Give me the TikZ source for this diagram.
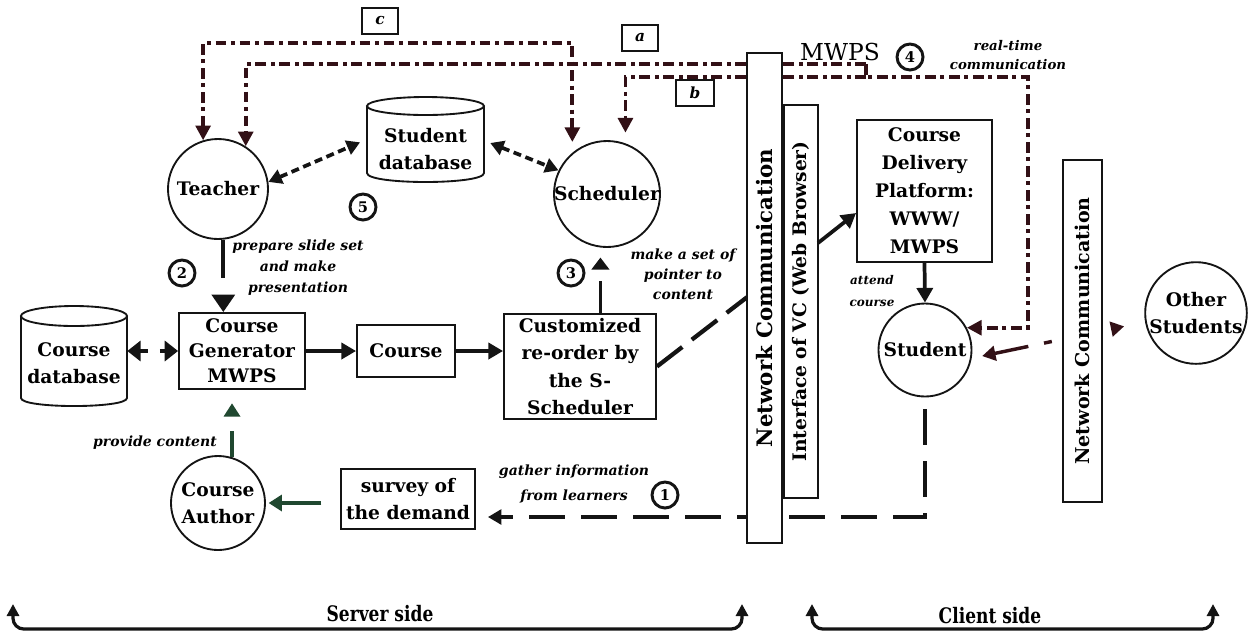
\documentclass[tikz,border=0pt]{standalone}
\usepackage{fontspec}
\setmainfont{DejaVu Serif}
\newfontfamily\condserif{DejaVu Serif}[FakeStretch=0.8]
\usetikzlibrary{arrows.meta}

\definecolor{ink}{RGB}{20,20,20}
\definecolor{redink}{RGB}{50,16,22}
\definecolor{greenink}{RGB}{32,72,48}

\newcommand\mainsz{\bfseries\fontsize{14}{20}\selectfont}
\newcommand\notesz{\bfseries\itshape\fontsize{10.5}{15}\selectfont}

\begin{document}
\begin{tikzpicture}[x=0.75pt, y=-0.75pt,
  txt/.style={font=\mainsz, align=center},
  boxnode/.style={txt, draw=ink, line width=1.4pt, inner sep=0pt, fill=white},
  circnode/.style={txt, circle, draw=ink, line width=1.4pt, inner sep=0pt},
  barnode/.style={txt, draw=ink, line width=1.4pt, fill=white, inner sep=0pt, rotate=90},
  dbline/.style={draw=ink, line width=1.4pt},
  lbl/.style={font=\notesz, align=center, inner sep=0pt},
  numnode/.style={circle, draw=ink, line width=2.2pt, inner sep=0pt, minimum size=19.5pt, font=\bfseries\fontsize{11}{11}\selectfont},
  tagnode/.style={draw=ink, line width=1.7pt, minimum width=27pt, minimum height=20pt, inner sep=0pt, font=\bfseries\itshape\fontsize{11.5}{11.5}\selectfont},
  solidarrow/.style={draw=ink, line width=2.8pt, -{Triangle[length=11pt,width=12pt]}},
  gapped/.style={draw=ink, line width=2.8pt, -{Triangle[length=13pt,width=17pt]}},
  greenarrow/.style={draw=greenink, line width=2.8pt, -{Triangle[length=10pt,width=12pt]}},
  dbdash/.style={draw=ink, line width=2.8pt, dash pattern=on 6pt off 3.5pt, {Triangle[length=10pt,width=11pt]}-{Triangle[length=10pt,width=11pt]}},
  topdash/.style={draw=redink, line width=2.8pt, dash pattern=on 8pt off 3.5pt on 3pt off 3.5pt},
  toptip/.style={-{Triangle[length=11pt,width=11pt]}},
  bracket/.style={draw=ink, line width=2.4pt, rounded corners=8pt, {Triangle[length=9pt,width=9pt]}-{Triangle[length=9pt,width=9pt]}},
  sidetext/.style={font=\condserif\bfseries\fontsize{16}{16}\selectfont, inner sep=0pt}
]
\useasboundingbox (0,0) rectangle (1250,637);

% ---- databases ----
\draw[dbline, fill=white] (367,106) -- (367,173) .. controls (367,185) and (484,185) .. (484,173) -- (484,106);
\draw[dbline] (425.5,106) ellipse [x radius=43.875pt, y radius=6.75pt];
\node[txt, minimum width=87.75pt, inner sep=0pt] (sdb) at (425.5,149) {Student\\database};

\draw[dbline, fill=white] (21,316) -- (21,398) .. controls (21,408.7) and (127,408.7) .. (127,398) -- (127,316);
\draw[dbline] (74,316) ellipse [x radius=39.75pt, y radius=7.5pt];
\node[txt, minimum width=79.5pt, inner sep=0pt] (cdb) at (74,363) {Course\\database};

% ---- actors and processing steps ----
\node[circnode, minimum size=75pt] (teacher) at (218,189) {Teacher};
\node[circnode, minimum size=79.5pt, inner sep=-1.5pt] (sched) at (607,194) {Scheduler};
\node[boxnode, minimum width=94.5pt, minimum height=57pt, font=\bfseries\fontsize{14}{18.75}\selectfont] (cgen) at (242,351) {Course\\Generator\\MWPS};
\node[boxnode, minimum width=73.5pt, minimum height=39pt] (course) at (406,351) {Course};
\node[boxnode, minimum width=114pt, minimum height=78.75pt, font=\bfseries\fontsize{14}{20.6}\selectfont] (custom) at (580,366.5) {Customized\\re-order by\\the S-\\Scheduler};
\node[circnode, minimum size=70.5pt] (author) at (218,503) {Course\\Author};
\node[boxnode, minimum width=100.5pt, minimum height=45pt] (survey) at (408,499) {survey of\\the demand};
\node[boxnode, minimum width=101.25pt, minimum height=106.5pt, font=\bfseries\fontsize{14}{21}\selectfont] (cdp) at (924.5,191) {Course\\Delivery\\Platform:\\WWW/\\MWPS};
\node[circnode, minimum size=69.75pt] (student) at (925,350) {Student};
\node[circnode, minimum size=75pt] (other) at (1196,313) {Other\\Students};

% ---- tags, step numbers and notes ----
\node[tagnode] (tagc) at (380,21) {c};
\node[tagnode] (taga) at (640,38) {a};
\node[tagnode, minimum width=28.5pt] (tagb) at (695,93) {b};

\node[numnode] (n1) at (665,495) {1};
\node[numnode] (n2) at (182,273) {2};
\node[numnode] (n3) at (571,273) {3};
\node[numnode] (n4) at (910,57) {4};
\node[numnode] (n5) at (363,207) {5};

\node[lbl, font=\bfseries\itshape\fontsize{10.5}{15.75}\selectfont] (lprep) at (298,268) {prepare slide set\\and make\\presentation};
\node[lbl] (lmake) at (683,274) {make a set of\\pointer to\\content};
\node[lbl, font=\bfseries\itshape\fontsize{9}{16}\selectfont] (lattend) at (872,291) {attend\\course};
\node[lbl] (lprov) at (155,443) {provide content};
\node[lbl, font=\bfseries\itshape\fontsize{10.5}{18.75}\selectfont] (lgather) at (574,484) {gather information\\from learners};
\node[lbl, font=\bfseries\itshape\fontsize{10}{14}\selectfont] (lreal) at (1008,55) {real-time\\communication};
\node[font=\fontsize{17.5}{17.5}\selectfont, inner sep=0pt] (lmwps) at (840,52) {MWPS};

% ---- connectors ----
\draw[dbdash] (teacher.8) -- ([xshift=-5pt,yshift=5pt]sdb.west);
\draw[dbdash] ([xshift=4.5pt,yshift=4.5pt]sdb.east) -- (sched.154);

\draw[gapped, dash pattern=on 28.5pt off 40pt] (teacher.-84) -- (teacher.-84 |- cgen.north);
\draw[draw=ink, line width=2.8pt, dash pattern=on 24pt off 40pt, shorten >=7.5pt, -{Triangle[length=9pt,width=13pt]}] (sched.-97 |- custom.north) -- (sched.-97);

\draw[draw=ink, line width=2.8pt, dash pattern=on 6pt off 9pt, {Triangle[length=10pt,width=15pt]}-{Triangle[length=10pt,width=15pt]}] (cgen.west -| cdb.east) -- (cgen.west);
\draw[solidarrow] (cgen.east) -- (course.west);
\draw[solidarrow] (course.east) -- (course.east -| custom.west);

\coordinate (netin) at (747,297.2);
\coordinate (netout) at (818,243);
\draw[draw=ink, line width=3.2pt, dash pattern=on 24pt off 9pt] (custom.east) -- (netin);

\draw[solidarrow] (cdp.south) -- (student.north);

\coordinate (fbcorner) at (925,517);
\draw[draw=ink, line width=2.4pt, dash pattern=on 27pt off 12pt, dash phase=30pt, -{Triangle[length=10pt,width=11pt]}, shorten >=9pt] (student.south) -- (fbcorner) -- (fbcorner -| survey.east);

\draw[greenarrow, shorten <=14pt, shorten >=2pt] (survey.west |- author.east) -- (author.east);
\draw[greenarrow, dash pattern=on 19.5pt off 40pt, shorten >=10pt] (author.73) -- (author.73 |- cgen.south);

\coordinate (ctop) at (380,43);
\coordinate (ajoin) at (866,64);
\coordinate (bjoin) at (866,77);
\coordinate (rcorner) at (1028,77);
\draw[topdash, {Triangle[length=11pt,width=11pt]}-{Triangle[length=11pt,width=11pt]}, shorten >=8pt] (teacher.107) |- (ctop) -| (sched.130);
\draw[topdash, toptip] (ajoin) -| (teacher.57);
\draw[topdash, toptip, shorten >=8pt] (bjoin) -| (sched.70);
\draw[topdash, toptip] (ajoin) -- (bjoin) -- (rcorner) |- (student.28);

\draw[draw=redink, line width=2.6pt, dash pattern=on 26pt off 12pt on 6pt off 12pt, shorten <=8pt, shorten >=16pt, {Triangle[length=10pt,width=11pt]}-{Triangle[length=10pt,width=11pt]}] (student.-10) -- (other.190);

% ---- network / browser layers ----
\node[barnode, minimum width=367.5pt, minimum height=26.25pt, font=\bfseries\fontsize{16}{16}\selectfont] (net1) at (764.5,298) {Network Communication};
\node[barnode, minimum width=294.75pt, minimum height=25.5pt, font=\bfseries\fontsize{14}{14}\selectfont] (iface) at (801,301.5) {Interface of VC (Web Browser)};
\draw[draw=ink, line width=2.4pt] (iface.north west) -- (iface.north east);
\node[barnode, minimum width=256.5pt, minimum height=29.25pt, font=\bfseries\fontsize{14.3}{14.3}\selectfont] (net2) at (1082.5,331) {Network Communication};

\draw[solidarrow] (netout) -- ([yshift=-16.5pt]cdp.west);

% ---- server / client extents ----
\coordinate (sl) at (13,604);
\coordinate (sbot) at (380,629);
\coordinate (sr) at (742,604);
\draw[bracket] (sl) |- (sbot) -| (sr);
\node[sidetext] (server) at (380,614) {Server side};

\coordinate (cl) at (812,604);
\coordinate (cbot) at (990,629);
\coordinate (cr) at (1213,604);
\draw[bracket] (cl) |- (cbot) -| (cr);
\node[sidetext] (client) at (990,616) {Client side};
\end{tikzpicture}
\end{document}
